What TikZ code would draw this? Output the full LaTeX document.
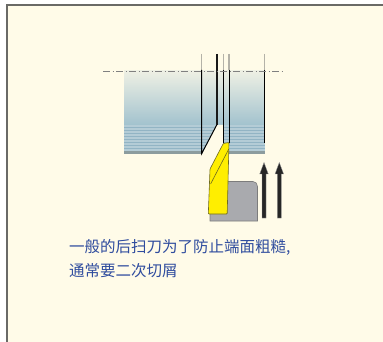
\documentclass[tikz,border=0pt]{standalone}
\usepackage{fontspec}
\newfontfamily\cjk{Noto Sans CJK SC}
\definecolor{paper}{HTML}{FFFBE8}
\definecolor{framegray}{HTML}{6A6A66}
\definecolor{worktop}{HTML}{EEF0E4}
\definecolor{workmid}{HTML}{A2C2CE}
\definecolor{stripelight}{HTML}{B4CCD6}
\definecolor{stripedark}{HTML}{92B4C4}
\definecolor{workedge}{HTML}{8C9C9E}
\definecolor{ghost}{HTML}{B4B2A8}
\definecolor{insert}{HTML}{FFEE00}
\definecolor{insertedge}{HTML}{6E6A20}
\definecolor{holder}{HTML}{A9AAAE}
\definecolor{holderedge}{HTML}{7C7C7C}
\definecolor{textblue}{HTML}{2F4C9E}
\tikzset{
  edgeline/.style={line width=1pt, black},
  ghostline/.style={line width=1.4pt, ghost},
  axisline/.style={line width=0.9pt, gray, dash pattern=on 7pt off 2.5pt on 1pt off 2.5pt},
  feedarrow/.style={fill=black!85, draw=black!40, line width=0.3pt},
  caption/.style={anchor=west, inner sep=0pt, text=textblue, align=left,
    font=\cjk\fontsize{15.5}{24}\selectfont}
}
\begin{document}
\begin{tikzpicture}[x=1pt, y=-1pt]
\useasboundingbox (0,0) rectangle (383,342);
% page and frame
\fill[white] (0,0) rectangle (383,342);
\fill[paper] (7,5) rectangle (383,342);
\draw[framegray, line width=1.2pt] (7,342) -- (7,5) -- (383,5);

% workpiece body with a graded face and banded lower part
\shade[top color=worktop, bottom color=workmid] (124,71) rectangle (264.5,125);
\fill[workmid] (124,125) rectangle (264.5,151);
\foreach \yy in {125.5,128.5,...,149.5}
  \fill[stripelight] (124,\yy) rectangle (264.5,\yy+1.4);
\foreach \yy in {127,130,...,150}
  \fill[stripedark] (124,\yy) rectangle (264.5,\yy+1.2);
\fill[workedge] (124,151.5) rectangle (264.5,154.5);

% material removed by the cut
\fill[paper] (201.7,155) -- (216.7,125) -- (223.3,125) -- (223.3,155) -- cycle;

% tool path traces above and below the axis
\foreach \xx in {201.7,223.3,229,264.5}
  \draw[ghostline] (\xx,54) -- (\xx,70);
\draw[edgeline] (201.7,70) -- (201.7,153.5) -- (216.7,125);
\draw[line width=2.2pt, black!90] (216.7,54) -- (216.7,125);
\draw[edgeline] (223.3,70) -- (223.3,143);
\draw[edgeline] (229,70) -- (229,143);
\draw[edgeline] (264.5,70) -- (264.5,143);

% centre line
\draw[axisline] (103,71.5) -- (283,71.5);

% tool holder
\filldraw[fill=holder, draw=holderedge, line width=0.6pt]
  (210,181.5) -- (253,181.5) to[out=0, in=90] (257.5,186.5) -- (257.5,221) -- (210,221) -- cycle;

% cutting insert
\filldraw[fill=insert, draw=insertedge, line width=0.6pt, rounded corners=0.8pt]
  (223.3,143.5) -- (229,142.5) -- (227.2,214) -- (208.3,214) -- (210,169) -- cycle;
\draw[insertedge, line width=0.6pt] (228.8,149) -- (210.6,184);

% feed direction arrows
\foreach \xx in {264,279.3}
  \filldraw[feedarrow] (\xx-2,218) -- (\xx-2,174) -- (\xx-4.3,174) -- (\xx,162.5)
    -- (\xx+4.3,174) -- (\xx+2,174) -- (\xx+2,218) -- cycle;

% caption
\node[caption] (note) at (69,258.5) {一般的后扫刀为了防止端面粗糙,\\通常要二次切屑};
\end{tikzpicture}
\end{document}
